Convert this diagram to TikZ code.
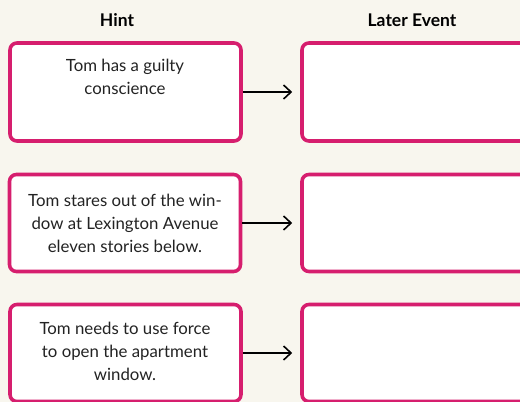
\documentclass[tikz,border=0pt]{standalone}
\usepackage{fontspec}
\setmainfont{Lato}
\usetikzlibrary{arrows.meta}
\definecolor{bg}{RGB}{248,246,238}
\definecolor{mag}{RGB}{214,30,110}
\definecolor{txt}{RGB}{35,35,35}
\tikzset{
  box/.style={draw=mag, fill=white, line width=3.6pt, rounded corners=7pt,
    minimum width=231pt, minimum height=98pt, inner sep=0pt},
  hinttext/.style={text=txt, align=center, font=\fontsize{16.8}{23}\selectfont},
  heading/.style={text=black, font=\fontsize{17.5}{20}\selectfont\bfseries},
  conn/.style={line width=1.6pt, -{Straight Barb[length=7.5pt,width=14pt,line width=1.6pt]}}
}
\begin{document}
\begin{tikzpicture}[x=1pt,y=1pt]
\useasboundingbox (0,0) rectangle (520,-402);
\clip (0,0) rectangle (520,-402);
\fill[bg] (0,0) rectangle (520,-402);
\node[heading] (h1) at (117,-20) {Hint};
\node[heading] (h2) at (412,-20) {Later Event};
% boxes
\node[box] (L1) at (125.5,-92) {};
\node[box] (R1) at (417.5,-92) {};
\node[box, minimum height=97pt] (L2) at (125,-223) {};
\node[box, minimum height=97pt] (R2) at (417.5,-223) {};
\node[box, minimum height=97pt] (L3) at (125.5,-353) {};
\node[box, minimum height=97pt] (R3) at (417.5,-353) {};
% texts
\node[hinttext] (t1) at (125,-77) {Tom has a guilty\\conscience};
\node[hinttext] (t2) at (125,-223) {Tom stares out of the win-\\dow at Lexington Avenue\\eleven stories below.};
\node[hinttext] (t3) at (125,-351) {Tom needs to use force\\to open the apartment\\window.};
% connectors
\draw[conn] (L1.east) -- ([xshift=-8pt]R1.west);
\draw[conn] (L2.east) -- ([xshift=-8pt]R2.west);
\draw[conn] (L3.east) -- ([xshift=-8pt]R3.west);
\end{tikzpicture}
\end{document}
